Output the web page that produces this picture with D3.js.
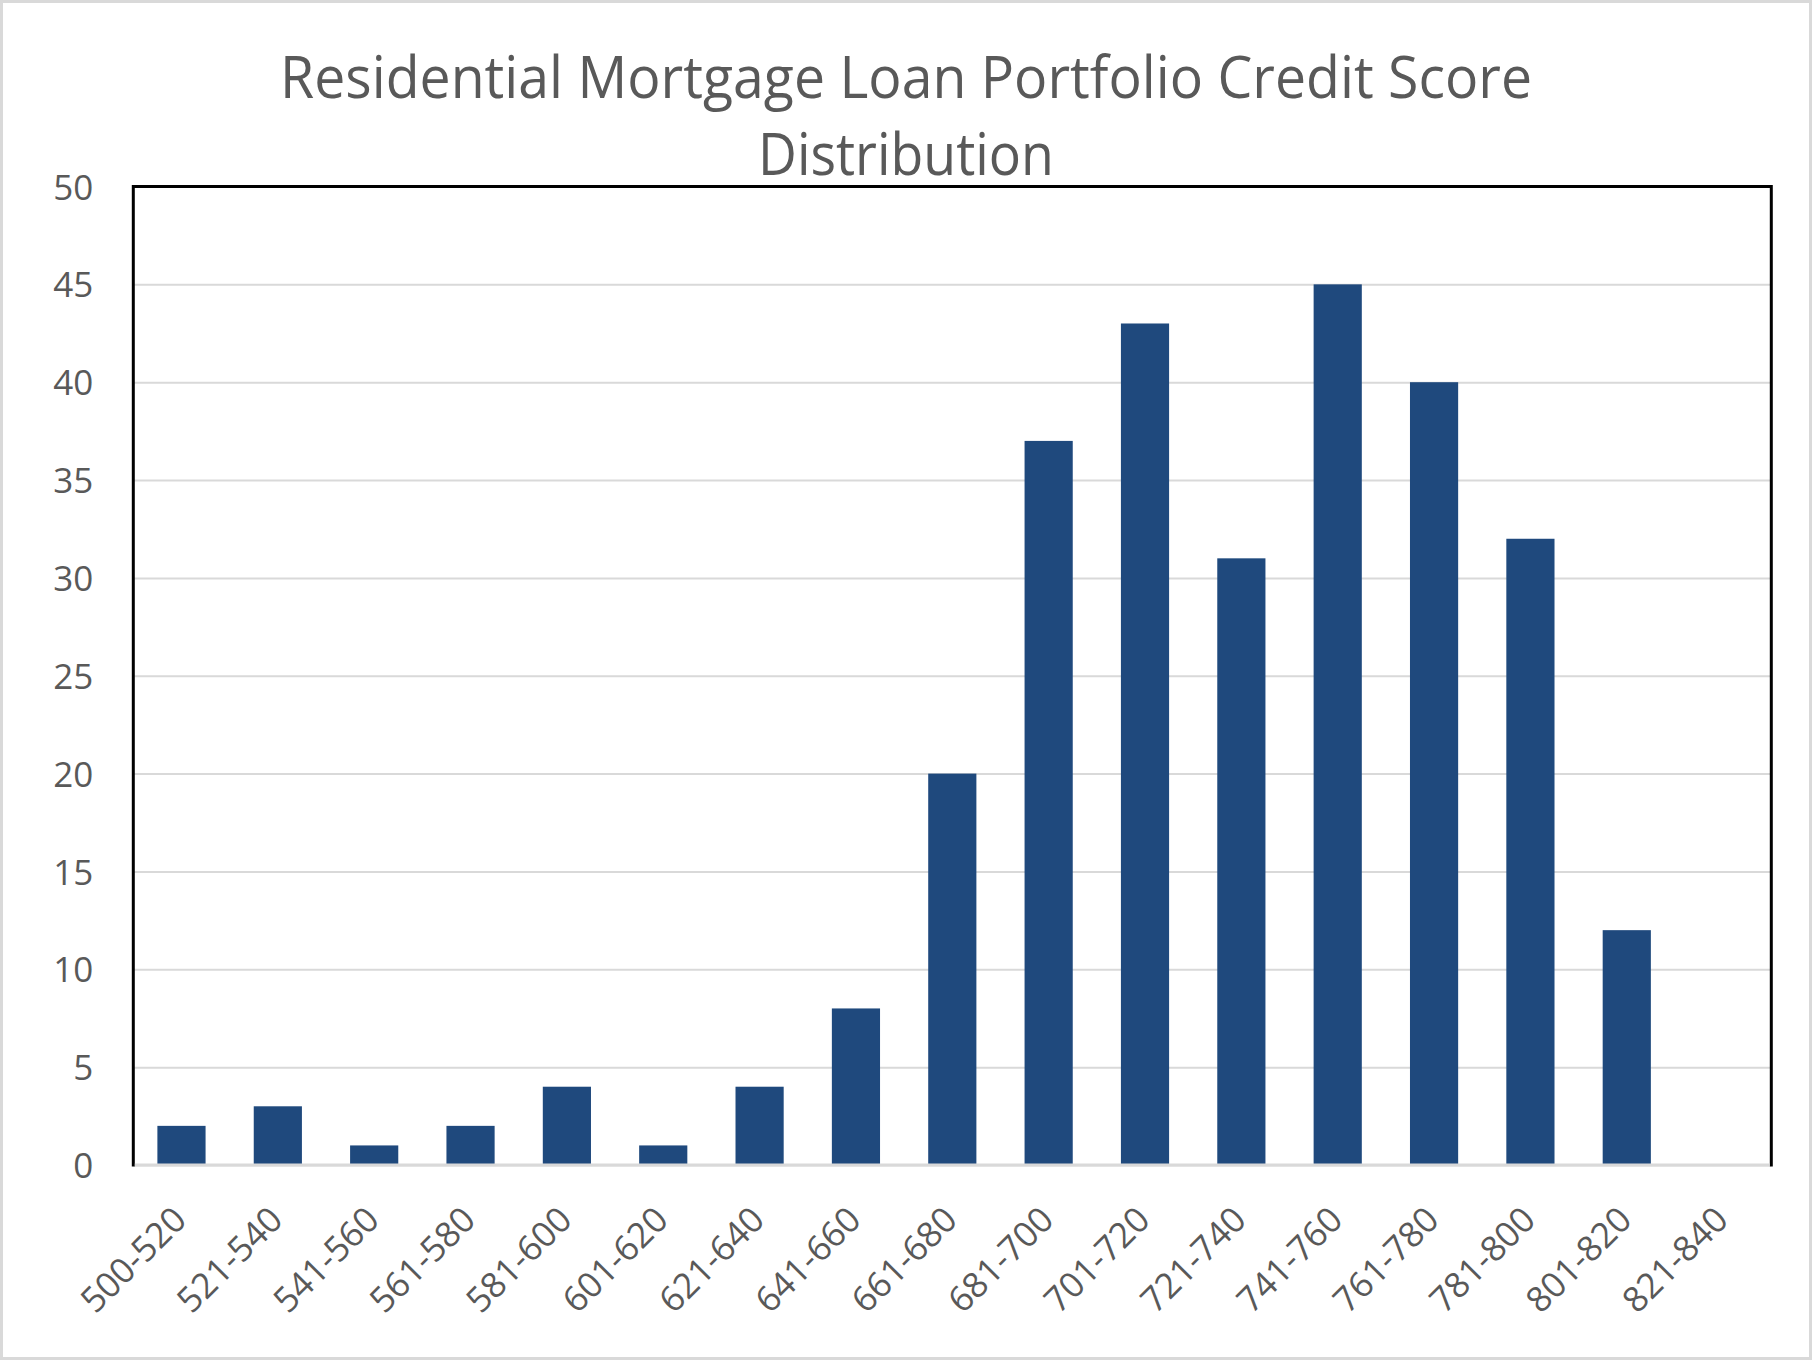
<!DOCTYPE html>
<html>
<head>
<meta charset="utf-8">
<script src="https://cdn.jsdelivr.net/npm/d3@7"></script>
<style>
  html, body { margin: 0; padding: 0; background: #ffffff; }
  svg { display: block; }
</style>
</head>
<body>
<svg id="chart" width="1812" height="1360"></svg>
<script>
const titleLines = ["Residential Mortgage Loan Portfolio Credit Score", "Distribution"];
const categories = ["500-520","521-540","541-560","561-580","581-600","601-620","621-640","641-660",
  "661-680","681-700","701-720","721-740","741-760","761-780","781-800","801-820","821-840"];
const counts = [2, 3, 1, 2, 4, 1, 4, 8, 20, 37, 43, 31, 45, 40, 32, 12, 0];
const yTicks = [0, 5, 10, 15, 20, 25, 30, 35, 40, 45, 50];

const W = 1812, H = 1360;
const plot = { left: 133.3, right: 1771.3, top: 186.5, bottom: 1165 };
const textColor = "#595959";
const barColor = "#1f497d";
const gridColor = "#d9d9d9";
const fontFam = "'Open Sans', 'Noto Sans', sans-serif";

const svg = d3.select("#chart");

// outer border
svg.append("rect")
  .attr("x", 1.5).attr("y", 1.5)
  .attr("width", W - 3).attr("height", H - 3)
  .attr("fill", "#ffffff")
  .attr("stroke", gridColor).attr("stroke-width", 3);

const x = d3.scaleBand()
  .domain(categories)
  .range([plot.left, plot.right])
  .paddingInner(0.5)
  .paddingOuter(0.25);

const y = d3.scaleLinear()
  .domain([0, 50])
  .range([plot.bottom, plot.top]);

// title
const titleWidths = [1252, 296];
const titleBaselines = [98.3, 175];
titleLines.forEach((t, i) => {
  svg.append("text")
    .attr("x", W / 2)
    .attr("y", titleBaselines[i])
    .attr("text-anchor", "middle")
    .attr("font-family", fontFam)
    .attr("font-size", 59)
    .attr("fill", textColor)
    .attr("textLength", titleWidths[i])
    .attr("lengthAdjust", "spacingAndGlyphs")
    .text(t);
});

// y axis with gridlines
const yAxis = svg.append("g")
  .attr("transform", `translate(${plot.left},0)`)
  .call(d3.axisLeft(y).tickValues(yTicks).tickSize(-(plot.right - plot.left)).tickPadding(40));
yAxis.select(".domain").remove();
yAxis.selectAll(".tick line")
  .attr("stroke", gridColor)
  .attr("stroke-width", 2);
yAxis.selectAll(".tick text")
  .attr("font-family", fontFam)
  .attr("font-size", 35)
  .attr("fill", textColor)
  .attr("dy", "0.36em");

// bars
svg.append("g")
  .selectAll("rect")
  .data(counts)
  .join("rect")
  .attr("x", (d, i) => x(categories[i]))
  .attr("y", d => y(d))
  .attr("width", x.bandwidth())
  .attr("height", d => y(0) - y(d))
  .attr("fill", barColor);

// frame (left, top, right in black)
svg.append("path")
  .attr("d", `M${plot.left},${plot.bottom + 1.5}V${plot.top}H${plot.right}V${plot.bottom + 1.5}`)
  .attr("fill", "none")
  .attr("stroke", "#000000")
  .attr("stroke-width", 3);

// x axis
const xAxis = svg.append("g")
  .attr("transform", `translate(0,${plot.bottom})`)
  .call(d3.axisBottom(x).tickSize(0).tickPadding(0));
xAxis.select(".domain")
  .attr("d", `M${plot.left + 1.5},0H${plot.right - 1.5}`)
  .attr("stroke", gridColor)
  .attr("stroke-width", 3);
xAxis.selectAll(".tick text")
  .attr("font-family", fontFam)
  .attr("font-size", 35)
  .attr("fill", textColor)
  .attr("text-anchor", "end")
  .attr("x", 0).attr("y", 0)
  .attr("dy", "0.36em")
  .attr("transform", "translate(-2,48) rotate(-45)");
</script>
</body>
</html>
